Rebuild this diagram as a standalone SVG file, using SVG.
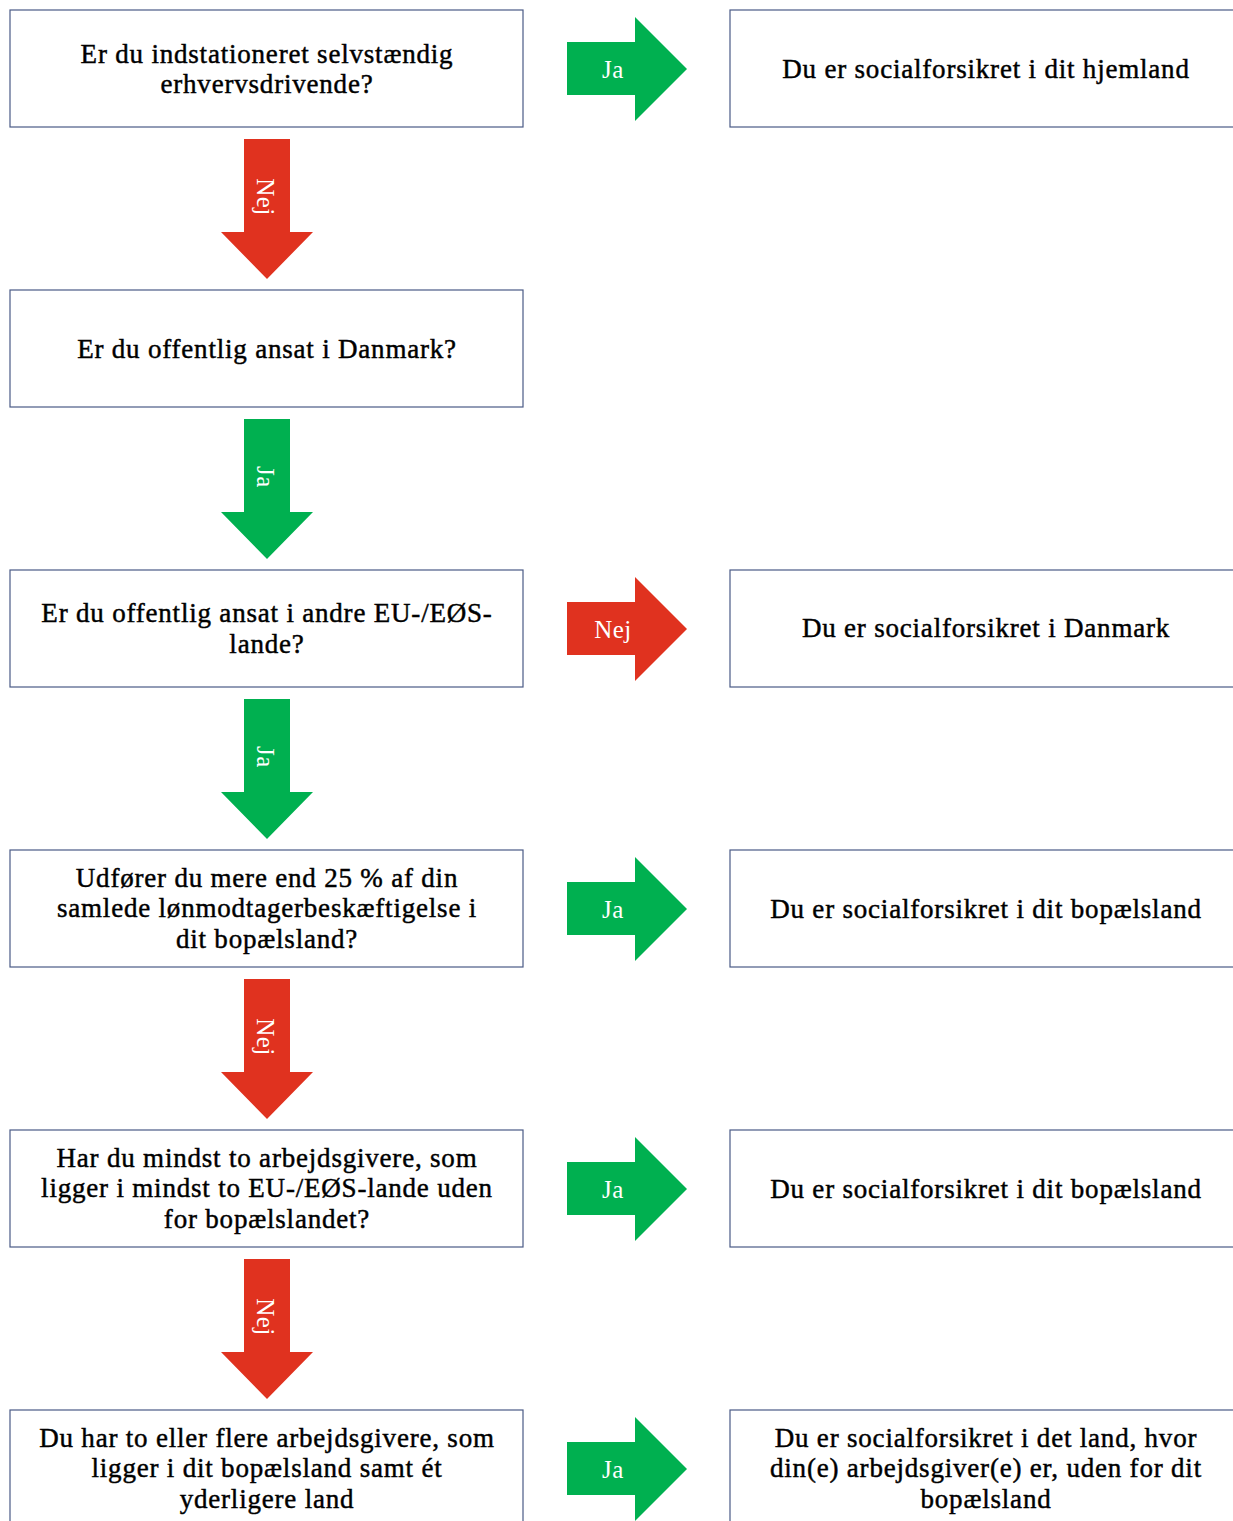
<svg xmlns="http://www.w3.org/2000/svg" width="1233" height="1521" viewBox="0 0 1233 1521">
<defs>
<style>
.box{fill:#fff;stroke:#4A5A86;stroke-width:1.2}
.t{font-family:"Liberation Serif","Times New Roman",serif;font-size:27px;letter-spacing:0.8px;fill:#000;stroke:#000;stroke-width:0.45;text-anchor:middle}
.g{fill:#00B050}
.r{fill:#E0321F}
.lbl{font-family:"Liberation Serif","Times New Roman",serif;font-size:25px;letter-spacing:0.5px;fill:#fff;text-anchor:middle}
</style>
<polygon id="ra" points="567,42 635,42 635,17 687,69 635,121 635,95 567,95"/>
<polygon id="da" points="244,139 290,139 290,232 313,232 267,279 221,232 244,232"/>
</defs>
<rect width="1233" height="1521" fill="#fff"/>
<g id="connectors">
<use href="#ra" class="g"/>
<text class="lbl" x="613" y="78">Ja</text>
<use href="#da" class="r"/>
<text class="lbl" transform="translate(257,197) rotate(90)">Nej</text>
<use href="#da" class="g" y="280"/>
<text class="lbl" transform="translate(257,477) rotate(90)">Ja</text>
<use href="#ra" class="r" y="560"/>
<text class="lbl" x="613" y="638">Nej</text>
<use href="#da" class="g" y="560"/>
<text class="lbl" transform="translate(257,757) rotate(90)">Ja</text>
<use href="#ra" class="g" y="840"/>
<text class="lbl" x="613" y="918">Ja</text>
<use href="#da" class="r" y="840"/>
<text class="lbl" transform="translate(257,1037) rotate(90)">Nej</text>
<use href="#ra" class="g" y="1120"/>
<text class="lbl" x="613" y="1198">Ja</text>
<use href="#da" class="r" y="1120"/>
<text class="lbl" transform="translate(257,1317) rotate(90)">Nej</text>
<use href="#ra" class="g" y="1400"/>
<text class="lbl" x="613" y="1478">Ja</text>
</g>
<g id="q1"><rect class="box" x="10" y="10" width="513" height="117"/>
<text class="t" x="267" y="63">Er du indstationeret selvstændig</text>
<text class="t" x="267" y="93">erhvervsdrivende?</text></g>
<g id="a1"><rect class="box" x="730" y="10" width="513" height="117"/>
<text class="t" x="986" y="78">Du er socialforsikret i dit hjemland</text></g>
<g id="q2"><rect class="box" x="10" y="290" width="513" height="117"/>
<text class="t" x="267" y="358">Er du offentlig ansat i Danmark?</text></g>
<g id="q3"><rect class="box" x="10" y="570" width="513" height="117"/>
<text class="t" x="267" y="622">Er du offentlig ansat i andre EU-/EØS-</text>
<text class="t" x="267" y="653">lande?</text></g>
<g id="a3"><rect class="box" x="730" y="570" width="513" height="117"/>
<text class="t" x="986" y="637">Du er socialforsikret i Danmark</text></g>
<g id="q4"><rect class="box" x="10" y="850" width="513" height="117"/>
<text class="t" x="267" y="887">Udfører du mere end 25 % af din</text>
<text class="t" x="267" y="917">samlede lønmodtagerbeskæftigelse i</text>
<text class="t" x="267" y="948">dit bopælsland?</text></g>
<g id="a4"><rect class="box" x="730" y="850" width="513" height="117"/>
<text class="t" x="986" y="918">Du er socialforsikret i dit bopælsland</text></g>
<g id="q5"><rect class="box" x="10" y="1130" width="513" height="117"/>
<text class="t" x="267" y="1167">Har du mindst to arbejdsgivere, som</text>
<text class="t" x="267" y="1197">ligger i mindst to EU-/EØS-lande uden</text>
<text class="t" x="267" y="1228">for bopælslandet?</text></g>
<g id="a5"><rect class="box" x="730" y="1130" width="513" height="117"/>
<text class="t" x="986" y="1198">Du er socialforsikret i dit bopælsland</text></g>
<g id="q6"><rect class="box" x="10" y="1410" width="513" height="117"/>
<text class="t" x="267" y="1447">Du har to eller flere arbejdsgivere, som</text>
<text class="t" x="267" y="1477">ligger i dit bopælsland samt ét</text>
<text class="t" x="267" y="1508">yderligere land</text></g>
<g id="a6"><rect class="box" x="730" y="1410" width="513" height="117"/>
<text class="t" x="986" y="1447">Du er socialforsikret i det land, hvor</text>
<text class="t" x="986" y="1477">din(e) arbejdsgiver(e) er, uden for dit</text>
<text class="t" x="986" y="1508">bopælsland</text></g>
</svg>
